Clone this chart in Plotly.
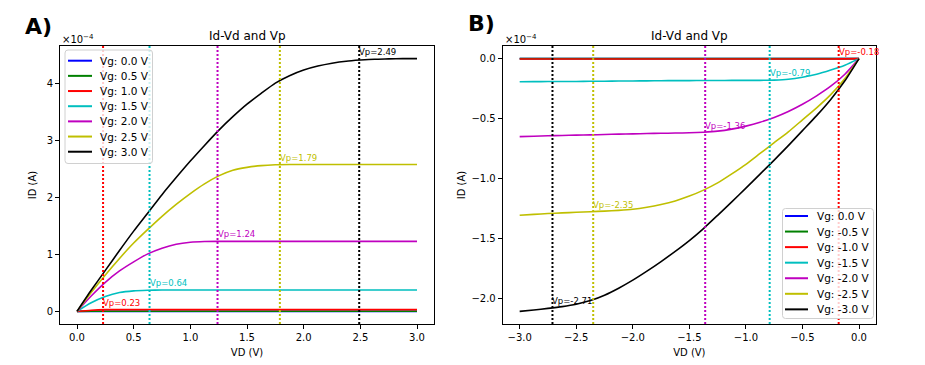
import plotly.graph_objects as go

W, H = 925, 365
FONT = "DejaVu Sans"

# ---------------- data (Id in units of 1e-4 A) ----------------
vd_a = [0, 0.125, 0.25, 0.375, 0.5, 0.625, 0.75, 0.875, 1.0, 1.125, 1.25, 1.375, 1.5, 1.625, 1.75,
        1.875, 2.0, 2.125, 2.25, 2.375, 2.5, 2.625, 2.75, 2.875, 3.0]
vg_a = ["0.0", "0.5", "1.0", "1.5", "2.0", "2.5", "3.0"]
id_a_00 = [0] * 25
id_a_05 = [0] + [0.001] * 24
id_a_10 = [0, 0.02] + [0.03] * 23
id_a_15 = [0, 0.15, 0.26, 0.33, 0.36, 0.37, 0.375] + [0.375] * 18
id_a_20 = [0, 0.27, 0.51, 0.71, 0.87, 1.01, 1.11, 1.18, 1.215, 1.228, 1.23] + [1.23] * 14
id_a_25 = [0, 0.33, 0.64, 0.93, 1.20, 1.44, 1.67, 1.88, 2.07, 2.24, 2.38, 2.48, 2.53, 2.56, 2.575,
           2.58] + [2.58] * 9
id_a_30 = [0, 0.37, 0.72, 1.07, 1.41, 1.73, 2.05, 2.35, 2.64, 2.915, 3.18, 3.42, 3.64, 3.83, 4.01,
           4.14, 4.24, 4.31, 4.36, 4.395, 4.415, 4.43, 4.435, 4.44, 4.44]
vp_a = [None, None, 0.23, 0.64, 1.24, 1.79, 2.49]
vp_a_level = [None, None, 0.03, 0.375, 1.23, 2.58, 4.43]

vd_b = [0, -0.125, -0.25, -0.375, -0.5, -0.625, -0.75, -0.875, -1.0, -1.125, -1.25, -1.375, -1.5,
        -1.625, -1.75, -1.875, -2.0, -2.125, -2.25, -2.375, -2.5, -2.625, -2.75, -2.875, -3.0]
vg_b = ["0.0", "-0.5", "-1.0", "-1.5", "-2.0", "-2.5", "-3.0"]
id_b_00 = [0] * 25
id_b_05 = [0] * 25
id_b_10 = [0, -0.002] + [-0.003] * 23
id_b_15 = [0, -0.055, -0.095, -0.13, -0.155, -0.172, -0.179, -0.181, -0.181, -0.1815, -0.182, -0.1825,
           -0.183, -0.1835, -0.184, -0.185, -0.186, -0.187, -0.188, -0.189, -0.19, -0.1905, -0.191,
           -0.192, -0.193]
id_b_20 = [0, -0.13, -0.23, -0.31, -0.38, -0.44, -0.49, -0.53, -0.562, -0.587, -0.604, -0.613, -0.618,
           -0.62, -0.622, -0.624, -0.627, -0.629, -0.632, -0.635, -0.637, -0.64, -0.643, -0.646, -0.65]
id_b_25 = [0, -0.165, -0.30, -0.41, -0.51, -0.61, -0.70, -0.79, -0.88, -0.96, -1.035, -1.095, -1.145,
           -1.185, -1.215, -1.238, -1.255, -1.264, -1.27, -1.275, -1.28, -1.285, -1.29, -1.297, -1.305]
id_b_30 = [0, -0.185, -0.34, -0.475, -0.60, -0.725, -0.845, -0.962, -1.078, -1.193, -1.305, -1.415,
           -1.515, -1.605, -1.69, -1.77, -1.845, -1.912, -1.97, -2.015, -2.045, -2.065, -2.08, -2.093,
           -2.105]
vp_b = [None, None, -0.18, -0.79, -1.36, -2.35, -2.71]
vp_b_level = [None, None, -0.003, -0.181, -0.617, -1.274, -2.08]

colors = ["#0000ff", "#008000", "#ff0000", "#00bfbf", "#bf00bf", "#bfbf00", "#000000"]

series_a = [id_a_00, id_a_05, id_a_10, id_a_15, id_a_20, id_a_25, id_a_30]
series_b = [id_b_00, id_b_05, id_b_10, id_b_15, id_b_20, id_b_25, id_b_30]


def px_x(p):
    return p / W


def px_y(p):
    return 1 - p / H


fig = go.Figure()

shapes = []
annotations = []

panels = [
    dict(xa="x", ya="y", vd=vd_a, series=series_a, vg=vg_a, vp=vp_a, lvl=vp_a_level),
    dict(xa="x2", ya="y2", vd=vd_b, series=series_b, vg=vg_b, vp=vp_b, lvl=vp_b_level),
]

for p in panels:
    for i, ys in enumerate(p["series"]):
        fig.add_trace(go.Scatter(
            x=p["vd"], y=ys, mode="lines", name="Vg: %s V" % p["vg"][i],
            line=dict(color=colors[i], width=1.6, shape="spline", smoothing=0.6),
            xaxis=p["xa"], yaxis=p["ya"], showlegend=False,
        ))
        if p["vp"][i] is not None:
            shapes.append(dict(
                type="line", xref=p["xa"], yref=p["ya"] + " domain",
                x0=p["vp"][i], x1=p["vp"][i], y0=0, y1=1,
                line=dict(color=colors[i], width=2, dash="2px,2px"),
            ))
            annotations.append(dict(
                x=p["vp"][i], y=p["lvl"][i], xref=p["xa"], yref=p["ya"],
                text="Vp=%.2f" % p["vp"][i], showarrow=False,
                xanchor="left", yanchor="bottom", xshift=-2, yshift=0,
                font=dict(family=FONT, size=8.5, color=colors[i]),
            ))


# ---------------- legends (drawn from the label lists) ----------------
def legend(box, line_x, text_x, row0, step, labels):
    x0, y0, x1, y1 = box
    r = 3
    path = (
        f"M {px_x(x0 + r)} {px_y(y0)} L {px_x(x1 - r)} {px_y(y0)} "
        f"Q {px_x(x1)} {px_y(y0)} {px_x(x1)} {px_y(y0 + r)} "
        f"L {px_x(x1)} {px_y(y1 - r)} Q {px_x(x1)} {px_y(y1)} {px_x(x1 - r)} {px_y(y1)} "
        f"L {px_x(x0 + r)} {px_y(y1)} Q {px_x(x0)} {px_y(y1)} {px_x(x0)} {px_y(y1 - r)} "
        f"L {px_x(x0)} {px_y(y0 + r)} Q {px_x(x0)} {px_y(y0)} {px_x(x0 + r)} {px_y(y0)} Z"
    )
    shapes.append(dict(type="path", xref="paper", yref="paper", path=path,
                       fillcolor="rgba(255,255,255,0.8)", line=dict(color="#d0d0d0", width=1),
                       layer="above"))
    for i, lab in enumerate(labels):
        yy = row0 + i * step
        shapes.append(dict(type="line", xref="paper", yref="paper",
                           x0=px_x(line_x[0]), x1=px_x(line_x[1]), y0=px_y(yy), y1=px_y(yy),
                           line=dict(color=colors[i], width=2), layer="above"))
        annotations.append(dict(x=px_x(text_x), y=px_y(yy), xref="paper", yref="paper",
                                text=lab, showarrow=False, xanchor="left", yanchor="middle",
                                font=dict(family=FONT, size=10.5, color="#000000")))


legend((65, 50, 152.5, 163.5), (68, 92), 97.5, 60.7, 15.17, ["Vg: %s V" % v for v in vg_a])
legend((782.5, 208.5, 873.5, 318.5), (785, 808), 814.5, 216, 15.56, ["Vg: %s V" % v for v in vg_b])

# ---------------- titles / labels ----------------
for cx, lbl, xl, yl in [(247, "A)", 38.5, 26, ), (689.3, "B)", 481.5, 24)]:
    annotations.append(dict(x=px_x(xl), y=px_y(yl), xref="paper", yref="paper", text="<b>%s</b>" % lbl,
                            showarrow=False, xanchor="center", yanchor="middle",
                            font=dict(family=FONT, size=22, color="#000000")))
    annotations.append(dict(x=px_x(cx), y=px_y(36.5), xref="paper", yref="paper", text="Id-Vd and Vp",
                            showarrow=False, xanchor="center", yanchor="middle",
                            font=dict(family=FONT, size=12, color="#000000")))

for xl in [60, 503]:
    annotations.append(dict(x=px_x(xl), y=px_y(39), xref="paper", yref="paper", text="×10<sup>−4</sup>",
                            showarrow=False, xanchor="left", yanchor="middle",
                            font=dict(family=FONT, size=10, color="#000000")))

axis_common = dict(
    showgrid=False, zeroline=False, showline=True, mirror=True, linecolor="#000000", linewidth=1,
    ticks="outside", ticklen=4, tickwidth=1, tickcolor="#000000", automargin=False,
    tickfont=dict(family=FONT, size=10, color="#000000"),
    title_font=dict(family=FONT, size=10, color="#000000"),
)

ydom = [1 - 324 / H, 1 - 46 / H]

fig.update_layout(
    width=W, height=H, margin=dict(l=0, r=0, t=0, b=0, autoexpand=False),
    paper_bgcolor="white", plot_bgcolor="white", showlegend=False,
    font=dict(family=FONT, color="#000000"),
    xaxis=dict(domain=[60 / W, 434 / W], range=[-0.15, 3.15], tickvals=[0, 0.5, 1, 1.5, 2, 2.5, 3],
               tickformat=".1f", anchor="y", title=dict(text="VD (V)", standoff=6), **axis_common),
    yaxis=dict(domain=ydom, range=[-0.222, 4.662], tickvals=[0, 1, 2, 3, 4], tickformat="d",
               anchor="x", title=dict(text="ID (A)", standoff=8), **axis_common),
    xaxis2=dict(domain=[502.7 / W, 876 / W], range=[-3.15, 0.15], tickvals=[-3, -2.5, -2, -1.5, -1, -0.5, 0],
                tickformat=".1f", anchor="y2", title=dict(text="VD (V)", standoff=6), **axis_common),
    yaxis2=dict(domain=ydom, range=[-2.21, 0.105], tickvals=[0, -0.5, -1, -1.5, -2], tickformat=".1f",
                anchor="x2", title=dict(text="ID (A)", standoff=3), **axis_common),
    shapes=shapes, annotations=annotations,
)

fig.write_html("out.html", config={"displayModeBar": False},
               post_script="document.body.style.margin='0px';")
